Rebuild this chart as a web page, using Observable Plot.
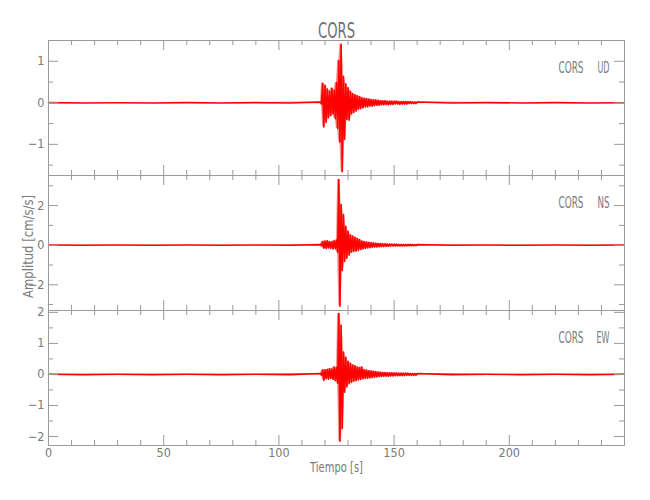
<!DOCTYPE html>
<html><head><meta charset="utf-8">
<script src="https://cdn.jsdelivr.net/npm/d3@7"></script>
<script src="https://cdn.jsdelivr.net/npm/@observablehq/plot@0.6"></script>
<style>
body{margin:0;background:#fff;}
#chart{position:relative;width:650px;height:500px;}
#chart svg{position:absolute;left:0;overflow:visible;}
</style></head><body><div id="chart"></div>
<script>
// ---------- data ----------
const station = "CORS";
const components = ["UD", "NS", "EW"];
const xLabel = "Tiempo [s]";
const yLabel = "Amplitud [cm/s/s]";
const xTickLabels = [0, 50, 100, 150, 200];
const xMinorTicks = [10, 20, 30, 40, 60, 70, 80, 90, 110, 120, 130, 140, 160, 170, 180, 190, 210, 220, 230, 240];

// sample times: quiet part before, event window sampled every 0.5 s, quiet part after
const tBefore = [0, 15, 30, 45, 60, 75, 90, 105];
const tEvent = d3.range(118, 160.001, 0.5);
const tAfter = [175, 190, 205, 220, 235, 250];
const time = [...tBefore, ...tEvent, ...tAfter];

const udNoiseBefore = [0.004, -0.004, 0.003, -0.004, 0.004, -0.003, 0.004, -0.004];
const udEvent = [0.02, -0.03, 0.47, -0.58, 0.42, -0.47, 0.33, -0.36, 0.28, -0.31,
  0.35, -0.27, 0.30, -0.38, 0.49, -0.62, 1.02, -0.95, 1.41, -1.66,
  0.64, -0.88, 0.46, -0.40, 0.36, -0.42, 0.28, -0.27, 0.22, -0.23,
  0.19, -0.20, 0.17, -0.16, 0.15, -0.14, 0.12, -0.12, 0.11, -0.10,
  0.10, -0.10, 0.09, -0.08, 0.08, -0.08, 0.07, -0.07, 0.07, -0.06,
  0.06, -0.06, 0.05, -0.05, 0.05, -0.05, 0.05, -0.04, 0.04, -0.05,
  0.04, -0.04, 0.04, -0.04, 0.04, -0.03, 0.04, -0.03, 0.03, -0.04,
  0.03, -0.03, 0.03, -0.03, 0.03, -0.03, 0.03, -0.02, 0.03, -0.02,
  0.02, -0.02, 0.02, -0.02, 0.02];
const udNoiseAfter = [-0.004, 0.004, -0.003, 0.004, -0.004, 0.003];

const nsNoiseBefore = [0.006, -0.006, 0.007, -0.006, 0.006, -0.007, 0.006, -0.006];
const nsEvent = [0.03, -0.03, 0.18, -0.15, 0.21, -0.17, 0.22, -0.14, 0.18, -0.16,
  0.17, -0.19, 0.22, -0.18, 0.26, -0.35, 3.32, -3.08, 2.05, -1.28,
  1.55, -0.82, 0.95, -0.66, 0.70, -0.50, 0.52, -0.36, 0.46, -0.32,
  0.40, -0.30, 0.34, -0.27, 0.28, -0.22, 0.21, -0.19, 0.18, -0.16,
  0.16, -0.14, 0.14, -0.13, 0.13, -0.11, 0.11, -0.10, 0.10, -0.09,
  0.09, -0.08, 0.08, -0.08, 0.07, -0.07, 0.07, -0.06, 0.06, -0.06,
  0.06, -0.05, 0.05, -0.05, 0.05, -0.05, 0.05, -0.04, 0.04, -0.05,
  0.04, -0.04, 0.04, -0.04, 0.04, -0.04, 0.04, -0.03, 0.04, -0.03,
  0.03, -0.03, 0.03, -0.03, 0.03];
const nsNoiseAfter = [-0.006, 0.007, -0.006, 0.006, -0.007, 0.006];

const ewNoiseBefore = [0.005, -0.005, 0.005, -0.006, 0.005, -0.005, 0.006, -0.005];
const ewEvent = [0.03, -0.03, 0.14, -0.19, 0.15, -0.14, 0.16, -0.15, 0.18, -0.13,
  0.17, -0.16, 0.24, -0.20, 0.22, -0.28, 1.96, -2.15, 1.58, -1.74,
  0.72, -0.57, 0.55, -0.40, 0.42, -0.30, 0.36, -0.26, 0.30, -0.22,
  0.28, -0.20, 0.24, -0.18, 0.22, -0.16, 0.24, -0.14, 0.15, -0.13,
  0.14, -0.12, 0.12, -0.11, 0.11, -0.10, 0.10, -0.09, 0.09, -0.08,
  0.08, -0.07, 0.07, -0.07, 0.06, -0.06, 0.06, -0.06, 0.05, -0.06,
  0.05, -0.05, 0.05, -0.05, 0.05, -0.04, 0.05, -0.04, 0.04, -0.04,
  0.04, -0.04, 0.04, -0.04, 0.04, -0.03, 0.04, -0.03, 0.03, -0.03,
  0.03, -0.03, 0.03, -0.03, 0.03];
const ewNoiseAfter = [-0.005, 0.005, -0.006, 0.005, -0.005, 0.005];

const udYTicks = [-1, 0, 1], udYMinor = [-1.5, -0.5, 0.5];
const nsYTicks = [-2, 0, 2], nsYMinor = [-3, -1, 1, 3];
const ewYTicks = [-2, -1, 0, 1, 2], ewYMinor = [-1.5, -0.5, 0.5, 1.5];

// ---------- drawing ----------
const FONT = "'Liberation Sans Narrow','DejaVu Sans Condensed','Liberation Sans',sans-serif";
const GRAY = "#9a9a9a", TEXT = "#7a7a7a", RED = "#ff0000";
const ML = 48, MR = 26, W = 650 - ML - MR;

function panel({comp, values, yDomain, yTicks, yMinor, top, height, marginTop, marginBottom, bottomAxis, extra = []}) {
  const H = height - marginTop - marginBottom;
  // each sample with the envelope of its neighbours (for the dense, filled look of the trace)
  const data = time.map((t, i) => {
    const w = values.slice(Math.max(0, i - 1), i + 2);
    return {t, v: values[i], lo: Math.min(...w), hi: Math.max(...w)};
  });
  const marks = [
    Plot.areaY(data, {x: "t", y1: "lo", y2: "hi", fill: RED, fillOpacity: 0.45}),
    Plot.line(data, {x: "t", y: "v", stroke: RED, strokeWidth: 1.6}),
    Plot.frame({stroke: GRAY}),
    Plot.ruleX(xTickLabels, {x: d => d, insetBottom: H - 10, stroke: GRAY}),
    Plot.ruleX(xMinorTicks, {x: d => d, insetBottom: H - 5, stroke: GRAY}),
    Plot.ruleX(xTickLabels, {x: d => d, insetTop: H - 10, stroke: GRAY}),
    Plot.ruleX(xMinorTicks, {x: d => d, insetTop: H - 5, stroke: GRAY}),
    Plot.ruleY(yTicks, {y: d => d, insetRight: W - 10, stroke: GRAY}),
    Plot.ruleY(yMinor, {y: d => d, insetRight: W - 5, stroke: GRAY}),
    Plot.ruleY(yTicks, {y: d => d, insetLeft: W - 10, stroke: GRAY}),
    Plot.ruleY(yMinor, {y: d => d, insetLeft: W - 5, stroke: GRAY}),
    Plot.axisY(yTicks, {anchor: "left", tickSize: 0, tickPadding: 4, fontSize: 12.5, label: null}),
    Plot.text([station], {frameAnchor: "top-right", dx: -41, dy: 22, textAnchor: "end", fontSize: 15, fill: TEXT}),
    Plot.text([comp], {frameAnchor: "top-right", dx: -15, dy: 22, textAnchor: "end", fontSize: 15, fill: TEXT}),
    ...extra
  ];
  if (bottomAxis) marks.push(Plot.axisX(xTickLabels, {anchor: "bottom", tickSize: 0, tickPadding: 3, fontSize: 12.5, label: null}));
  const svg = Plot.plot({
    width: 650, height, marginLeft: ML, marginRight: MR, marginTop, marginBottom,
    x: {domain: [0, 250], axis: bottomAxis ? undefined : null, label: null},
    y: {domain: yDomain, label: null},
    style: {background: "transparent", overflow: "visible", fontFamily: FONT, color: TEXT},
    marks
  });
  svg.style.top = top + "px";
  return svg;
}

const chart = document.getElementById("chart");
const p1 = panel({comp: components[0], values: [...udNoiseBefore, ...udEvent, ...udNoiseAfter],
  yDomain: [-1.75, 1.5], yTicks: udYTicks, yMinor: udYMinor, top: 0, height: 175, marginTop: 40, marginBottom: 0,
  extra: [Plot.text([station], {frameAnchor: "top", dy: -17, fontSize: 21, fill: "#707070"})]});
const p2 = panel({comp: components[1], values: [...nsNoiseBefore, ...nsEvent, ...nsNoiseAfter],
  yDomain: [-3.3, 3.52], yTicks: nsYTicks, yMinor: nsYMinor, top: 175, height: 135, marginTop: 0, marginBottom: 0,
  extra: [Plot.text([yLabel], {frameAnchor: "left", dx: -19.5, dy: 55, rotate: -90, textAnchor: "start", fontSize: 14, fill: TEXT})]});
const p3 = panel({comp: components[2], values: [...ewNoiseBefore, ...ewEvent, ...ewNoiseAfter],
  yDomain: [-2.29, 2.06], yTicks: ewYTicks, yMinor: ewYMinor, top: 310, height: 190, marginTop: 0, marginBottom: 55,
  bottomAxis: true,
  extra: [Plot.text([xLabel], {frameAnchor: "bottom", dy: 26.5, fontSize: 14, fill: TEXT})]});
chart.append(p1, p2, p3);

// condense text widths to match the narrow vector font of the original
const targets = [
  [station, 21, 37], [station, 15, 25], ["UD", 15, 12], ["NS", 15, 12], ["EW", 15, 13],
  [yLabel, 14, 103], [xLabel, 14, 53]
];
for (const svg of [p1, p2, p3]) {
  d3.select(svg).selectAll("text").each(function () {
    const fs = parseFloat(getComputedStyle(this).fontSize);
    for (const [s, f, len] of targets) {
      if (this.textContent === s && Math.abs(fs - f) < 0.5) {
        this.setAttribute("textLength", len);
        this.setAttribute("lengthAdjust", "spacingAndGlyphs");
      }
    }
  });
}
</script></body></html>
